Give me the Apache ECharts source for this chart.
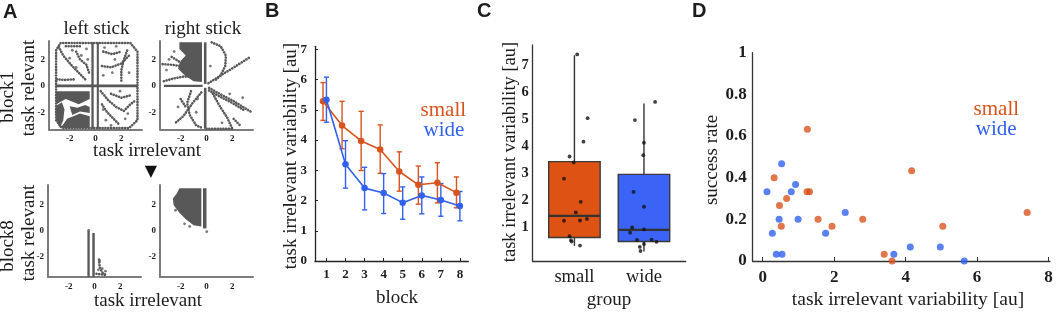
<!DOCTYPE html>
<html>
<head>
<meta charset="utf-8">
<script src="https://cdn.jsdelivr.net/npm/echarts@6/dist/echarts.min.js"></script>
<style>
html, body { margin: 0; padding: 0; background: #fff; }
#chart { width: 1056px; height: 313px; }
</style>
</head>
<body>
<div id="chart"></div>
<script>
// ---------- panel A: stick positions (task irrelevant x, task relevant y) ----------
// dense regions as outlines, sparse tracks as vertex lists, single dots
const leftB1Fills = [
  [[-0.32, -3.25], [-0.14, -3.25], [-0.14, 3.3], [-0.32, 3.3]],
  [[0.1, -3.25], [0.26, -3.25], [0.26, 3.3], [0.1, 3.3]],
  [[-3.05, -0.1], [3.25, -0.1], [3.25, 0.1], [-3.05, 0.1]],
  [[-2.7, -3.2], [-0.45, -3.2], [-0.45, -2.3], [-1.2, -2.1], [-2.2, -2.5]],
  [[-3.05, -0.4], [-0.45, -0.4], [-0.45, -1.0], [-1.3, -1.4], [-2.3, -1.0], [-3.05, -1.4]],
  [[-3.05, -1.5], [-2.6, -1.25], [-2.4, -1.8], [-2.5, -2.6], [-2.75, -3.2], [-3.05, -2.6]],
  [[-2.0, -1.55], [-1.4, -1.65], [-0.8, -1.45], [-0.45, -1.6], [-0.45, -2.05], [-1.2, -1.95], [-1.8, -2.2]]
];
const leftB1Paths = [
  [[-3.05, 2.7], [-2.7, 3.25], [2.7, 3.25], [3.25, 2.6], [3.25, -2.6], [2.6, -3.2], [-2.6, -3.2], [-3.05, -2.6], [-3.05, 2.7]],
  [[-2.85, 2.95], [-2.5, 2.3], [-1.9, 1.6], [-1.3, 1.0], [-0.8, 0.5]],
  [[-3.0, 0.5], [-2.4, 0.45], [-1.6, 0.5]],
  [[-2.3, 3.0], [-1.0, 3.0]],
  [[-1.5, 2.6], [-1.2, 2.0], [-0.7, 1.6], [-0.5, 1.0]],
  [[0.5, 1.5], [1.2, 1.4], [2.0, 1.7], [2.7, 2.4]],
  [[2.0, 0.4], [2.0, 1.2], [2.2, 2.0], [2.5, 2.8]],
  [[0.6, 2.6], [1.3, 2.4], [2.0, 2.6]],
  [[0.4, -0.4], [1.0, -1.1], [1.6, -1.6], [2.2, -1.9], [2.7, -1.4], [3.1, -1.1]],
  [[0.5, -1.4], [0.9, -2.0], [1.4, -2.5], [1.8, -2.9]],
  [[1.2, -0.6], [2.0, -0.9], [2.8, -0.7]]
];
const leftB1Dots = [[-1.8, 2.7], [-1.1, 2.3], [-0.7, 2.8], [-2.0, 2.1], [-1.5, 1.4], [-0.6, 2.0], [0.7, 2.9],
  [1.6, 3.0], [1.3, 1.0], [0.6, 0.8], [2.6, 1.0], [1.5, 2.0], [0.8, -2.6], [1.2, -3.0], [2.3, -2.5],
  [0.6, -1.8], [1.9, -0.4], [2.5, -2.1], [-1.6, -1.9], [-0.9, -1.7]];

const rightB1Fills = [
  [[-2.1, 3.3], [-0.35, 3.3], [-0.35, 0.3], [-1.0, 0.35], [-1.7, 0.8], [-2.2, 1.3], [-2.0, 1.9], [-1.6, 2.3], [-2.1, 2.8]],
  [[-0.2, 0.15], [0.0, 0.15], [0.0, 3.3], [-0.2, 3.3]],
  [[-0.2, -3.25], [0.0, -3.25], [0.0, -0.15], [-0.2, -0.15]],
  [[-3.3, -0.08], [-0.3, -0.08], [-0.3, 0.08], [-3.3, 0.08]]
];
const rightB1Paths = [
  [[-3.4, 1.65], [-2.7, 1.6], [-2.0, 1.5]],
  [[-2.7, 2.2], [-2.2, 1.9], [-1.5, 1.3]],
  [[-3.3, 0.35], [-2.6, 0.55], [-1.8, 0.7], [-1.2, 0.7]],
  [[0.4, 3.3], [1.1, 3.0], [1.5, 2.3], [1.45, 1.5], [1.1, 0.8], [0.6, 0.35]],
  [[0.15, 0.2], [1.2, 0.85], [2.2, 1.45], [3.4, 2.2]],
  [[0.2, -0.15], [1.0, -0.6], [2.0, -1.1], [3.0, -1.7], [3.5, -2.0]],
  [[0.2, -0.35], [1.0, -0.8], [2.0, -1.3], [3.0, -1.9]],
  [[0.5, -0.6], [1.0, -1.5], [1.6, -2.4], [2.0, -3.25]],
  [[0.0, -3.25], [2.0, -3.25]],
  [[2.1, -2.5], [2.6, -3.0]],
  [[-0.4, -0.5], [-1.0, -1.2], [-1.8, -2.3], [-2.4, -2.8]],
  [[-1.2, -0.4], [-1.5, -1.3], [-1.3, -2.2], [-0.8, -3.0], [-0.3, -3.2]],
  [[-2.0, -1.0], [-1.6, -1.6]]
];
const rightB1Dots = [[-2.9, 2.0], [-3.1, 1.2], [-2.5, 2.6], [1.8, -0.6], [2.8, -0.9], [-0.8, -2.0],
  [-2.2, -1.6], [-0.7, -1.0], [1.2, -2.8], [0.3, 1.5]];

const leftB8Fills = [
  [[-0.55, 0.0], [-0.37, 0.0], [-0.37, -3.55], [-0.55, -3.55]],
  [[-0.17, -0.15], [0.02, -0.15], [0.02, -3.55], [-0.17, -3.55]]
];
const leftB8Paths = [
  [[0.35, -2.2], [0.4, -2.8], [0.6, -3.2], [0.9, -3.4]],
  [[0.15, -3.3], [0.9, -3.4]]
];
const leftB8Dots = [[-0.45, 0.05], [0.4, -2.3], [0.6, -2.9], [0.85, -3.1], [0.3, -3.0]];

const rightB8Fills = [
  [[-2.1, 3.3], [-0.4, 3.3], [-0.4, 0.35], [-1.0, 0.45], [-1.6, 0.9], [-2.1, 1.4], [-2.55, 2.0], [-2.6, 2.5], [-2.3, 2.9]],
  [[-0.27, 0.2], [0.0, 0.2], [0.0, 3.3], [-0.27, 3.3]]
];
const rightB8Paths = [];
const rightB8Dots = [[0.02, -0.05], [-1.7, 0.55], [-1.3, 0.35], [-2.4, 1.6]];

// ---------- panel B: mean +/- error per block ----------
const BLOCKS = [1, 2, 3, 4, 5, 6, 7, 8];
const smallMean = [5.28, 4.48, 3.97, 3.69, 2.96, 2.52, 2.59, 2.26];
const smallHi = [5.9, 5.28, 4.95, 4.5, 3.61, 3.14, 3.25, 2.78];
const smallLo = [4.65, 3.71, 2.99, 2.9, 2.31, 1.88, 1.92, 1.76];
const wideMean = [5.33, 3.2, 2.41, 2.25, 1.93, 2.17, 2.02, 1.82];
const wideHi = [6.08, 3.98, 3.1, 2.89, 2.45, 2.78, 2.56, 2.3];
const wideLo = [4.59, 2.41, 1.69, 1.57, 1.38, 1.56, 1.48, 1.33];
const SMALL_SHIFT = -0.18;

// ---------- panels C / D: per-subject values ----------
const GROUPS = ['small', 'wide'];
const smallVar = [0.32, 0.47, 0.52, 0.67, 1.24, 1.25, 1.31, 1.55, 1.94, 2.8, 3.4, 3.62, 4.17, 5.04, 7.4];
const smallRate = [0.4, 0.267, 0.167, 0.3, 0.333, 0.633, 0.333, 0.2, 0.167, 0.2, 0.033, 0, 0.433, 0.167, 0.233];
const smallJitter = [0.08, -0.04, -0.05, -0.07, -0.15, 0.08, 0.18, 0.02, 0.09, -0.15, -0.01, -0.07, 0.13, 0.19, 0.04];
const wideVar = [0.12, 0.27, 0.38, 0.46, 0.53, 0.54, 0.8, 0.92, 0.99, 1.76, 2.31, 3.67, 4.13, 4.97, 5.64];
const wideRate = [0.333, 0.133, 0.033, 0.2, 0.467, 0.033, 0.333, 0.367, 0.2, 0.133, 0.233, 0.033, 0.067, 0.067, 0];
const wideJitter = [-0.05, -0.06, 0, 0.18, -0.1, 0.11, -0.2, 0, -0.17, 0, -0.15, -0.01, 0, -0.13, 0.16];
// box stats: min, q1, median, q3, max
const smallBox = [0.31, 0.62, 1.42, 3.43, 7.37];
const wideBox = [0.1, 0.47, 0.9, 2.96, 5.58];

const GRAY = '#585858';
const ORANGE = '#D9531E';
const BLUE = '#3161EE';
const BOX_FILL = ['#DE5214', '#3B63F6'];
const INK = '#1c1c1c';
const SERIF = '"Liberation Serif", "Times New Roman", serif';
const SANS = '"Liberation Sans", Arial, sans-serif';

const chart = echarts.init(document.getElementById('chart'), null, { renderer: 'canvas' });

const grids = [
  { left: 49, top: 41, width: 93, height: 88.4 },
  { left: 160, top: 41, width: 93, height: 88.4 },
  { left: 48, top: 185, width: 93, height: 92 },
  { left: 160, top: 185, width: 93, height: 92 },
  { left: 315, top: 46.3, width: 153.3, height: 214.7 },
  { left: 532.7, top: 45, width: 153, height: 216 },
  { left: 752.7, top: 52.7, width: 297.3, height: 208.3 }
];

const tickFont = (size) => ({ fontFamily: SERIF, fontWeight: 'bold', fontSize: size, color: INK });

const aAxis = (gridIndex, min, max, margin) => ({
  gridIndex, type: 'value', min, max,
  axisLine: { show: true, onZero: false, lineStyle: { color: '#7c7c7c', width: 2 } },
  axisTick: { show: false },
  splitLine: { show: false },
  axisLabel: { customValues: [-2, 0, 2], margin, ...tickFont(9) }
});

const xAxes = [
  aAxis(0, -3.6, 3.6, 5), aAxis(1, -3.6, 3.6, 5), aAxis(2, -3.6, 3.6, 5), aAxis(3, -3.6, 3.6, 5),
  {
    gridIndex: 4, type: 'value', min: 0.4, max: 8.44,
    axisLine: { onZero: false, lineStyle: { color: '#222', width: 1.3 } },
    axisTick: { inside: true, length: 3, customValues: BLOCKS, lineStyle: { color: '#222' } },
    axisLabel: { customValues: BLOCKS, margin: 7, ...tickFont(13) },
    splitLine: { show: false }
  },
  {
    gridIndex: 5, type: 'value', min: 0.4, max: 2.6,
    axisLine: { onZero: false, lineStyle: { color: '#333', width: 1.3 } },
    axisTick: { show: false },
    axisLabel: { customValues: [1, 2], margin: 7, formatter: (v) => GROUPS[Math.round(v) - 1],
      fontFamily: SERIF, fontSize: 18.5, color: INK },
    splitLine: { show: false }
  },
  {
    gridIndex: 6, type: 'value', min: -0.28, max: 8.04,
    axisLine: { onZero: false, lineStyle: { color: '#333', width: 1.3 } },
    axisTick: { inside: true, length: 4, customValues: [0, 2, 4, 6, 8], lineStyle: { color: '#333' } },
    axisLabel: { customValues: [0, 2, 4, 6, 8], margin: 8, ...tickFont(17) },
    splitLine: { show: false }
  }
];

const yAxes = [
  aAxis(0, -3.3, 3.4, 4), aAxis(1, -3.3, 3.4, 4), aAxis(2, -3.55, 3.55, 4), aAxis(3, -3.55, 3.55, 4),
  {
    gridIndex: 4, type: 'value', min: 0, max: 7.1,
    axisLine: { show: true, onZero: false, lineStyle: { color: '#222', width: 1.3 } },
    axisTick: { show: true, inside: true, length: 3, customValues: [0, 1, 2, 3, 4, 5, 6, 7], lineStyle: { color: '#222' } },
    axisLabel: { customValues: [0, 1, 2, 3, 4, 5, 6, 7], margin: 8, ...tickFont(13) },
    splitLine: { show: false }
  },
  {
    gridIndex: 5, type: 'value', min: -0.25, max: 7.75,
    axisLine: { show: true, onZero: false, lineStyle: { color: '#333', width: 1.3 } },
    axisTick: { show: false },
    axisLabel: { customValues: [1, 2, 3, 4, 5, 6, 7], margin: 4, ...tickFont(14.5) },
    splitLine: { show: false }
  },
  {
    gridIndex: 6, type: 'value', min: 0, max: 1, interval: 0.2,
    axisLine: { show: true, onZero: false, lineStyle: { color: '#333', width: 1.3 } },
    axisTick: { show: false },
    axisLabel: { margin: 6, ...tickFont(17) },
    splitLine: { show: false }
  }
];

// ---- series builders ----
const polySeries = (g, fills) => ({
  type: 'custom', xAxisIndex: g, yAxisIndex: g, silent: true,
  data: fills.map((f, i) => [i, 0]),
  renderItem: (params, api) => ({
    type: 'polygon',
    shape: { points: fills[api.value(0)].map((p) => api.coord(p)) },
    style: { fill: GRAY }
  })
});

const pathSeries = (g, paths) => paths.map((p) => ({
  type: 'line', xAxisIndex: g, yAxisIndex: g, silent: true, symbol: 'none',
  data: p,
  lineStyle: { color: GRAY, width: 2.6, type: [0.1, 2.7], cap: 'round' }
}));

const dotSeries = (g, dots) => ({
  type: 'scatter', xAxisIndex: g, yAxisIndex: g, silent: true,
  data: dots, symbolSize: 2.8, itemStyle: { color: GRAY }
});

const panelA = [
  [0, leftB1Fills, leftB1Paths, leftB1Dots],
  [1, rightB1Fills, rightB1Paths, rightB1Dots],
  [2, leftB8Fills, leftB8Paths, leftB8Dots],
  [3, rightB8Fills, rightB8Paths, rightB8Dots]
].flatMap(([g, f, p, d]) => [polySeries(g, f), ...pathSeries(g, p), dotSeries(g, d)]);

const errSeries = (xs, lo, hi, color) => ({
  type: 'custom', xAxisIndex: 4, yAxisIndex: 4, silent: true,
  data: xs.map((x, i) => [x, lo[i], hi[i]]),
  encode: { x: 0, y: [1, 2] },
  renderItem: (params, api) => {
    const x = api.value(0);
    const b = api.coord([x, api.value(1)]);
    const t = api.coord([x, api.value(2)]);
    const w = 2.6;
    const st = { stroke: color, lineWidth: 1.4 };
    return {
      type: 'group', children: [
        { type: 'line', shape: { x1: t[0], y1: t[1], x2: b[0], y2: b[1] }, style: st },
        { type: 'line', shape: { x1: t[0] - w, y1: t[1], x2: t[0] + w, y2: t[1] }, style: st },
        { type: 'line', shape: { x1: b[0] - w, y1: b[1], x2: b[0] + w, y2: b[1] }, style: st }
      ]
    };
  }
});

const meanSeries = (xs, ys, color) => ({
  type: 'line', xAxisIndex: 4, yAxisIndex: 4, silent: true,
  data: xs.map((x, i) => [x, ys[i]]),
  symbol: 'circle', symbolSize: 6.5,
  lineStyle: { color, width: 1.6 }, itemStyle: { color }
});

const smallX = BLOCKS.map((b) => b + SMALL_SHIFT);

const panelB = [
  errSeries(smallX, smallLo, smallHi, ORANGE),
  meanSeries(smallX, smallMean, ORANGE),
  errSeries(BLOCKS, wideLo, wideHi, BLUE),
  meanSeries(BLOCKS, wideMean, BLUE)
];

const boxSeries = {
  type: 'custom', xAxisIndex: 5, yAxisIndex: 5, silent: true,
  data: [[1, ...smallBox], [2, ...wideBox]],
  encode: { x: 0, y: [1, 2, 3, 4, 5] },
  renderItem: (params, api) => {
    const x = api.value(0);
    const [mn, q1, md, q3, mx] = [1, 2, 3, 4, 5].map((d) => api.value(d));
    const hw = 0.37;
    const tl = api.coord([x - hw, q3]);
    const br = api.coord([x + hw, q1]);
    const m1 = api.coord([x - hw, md]);
    const m2 = api.coord([x + hw, md]);
    const top = api.coord([x, mx]);
    const bot = api.coord([x, mn]);
    const line = { stroke: '#333', lineWidth: 1.4 };
    return {
      type: 'group', children: [
        { type: 'line', shape: { x1: top[0], y1: top[1], x2: top[0], y2: tl[1] }, style: line },
        { type: 'line', shape: { x1: bot[0], y1: br[1], x2: bot[0], y2: bot[1] }, style: line },
        { type: 'rect', shape: { x: tl[0], y: tl[1], width: br[0] - tl[0], height: br[1] - tl[1] },
          style: { fill: BOX_FILL[params.dataIndex], stroke: '#3a3a3a', lineWidth: 1.4 } },
        { type: 'line', shape: { x1: m1[0], y1: m1[1], x2: m2[0], y2: m2[1] }, style: { stroke: '#333', lineWidth: 2.2 } }
      ]
    };
  }
};

const panelC = [
  boxSeries,
  { type: 'scatter', xAxisIndex: 5, yAxisIndex: 5, silent: true, symbolSize: 3.8, itemStyle: { color: '#111' },
    data: smallVar.map((v, i) => [1 + smallJitter[i], v]) },
  { type: 'scatter', xAxisIndex: 5, yAxisIndex: 5, silent: true, symbolSize: 3.8, itemStyle: { color: '#111' },
    data: wideVar.map((v, i) => [2 + wideJitter[i], v]) }
];

const panelD = [
  { type: 'scatter', xAxisIndex: 6, yAxisIndex: 6, silent: true, symbolSize: 7, itemStyle: { color: ORANGE },
    data: smallVar.map((v, i) => [v, smallRate[i]]) },
  { type: 'scatter', xAxisIndex: 6, yAxisIndex: 6, silent: true, symbolSize: 7, itemStyle: { color: BLUE },
    data: wideVar.map((v, i) => [v, wideRate[i]]) }
];

// ---- free text: panel letters, titles, axis names, in-plot legends ----
const txt = (text, x, y, size, o = {}) => ({
  type: 'text', x, y, rotation: o.rot ? Math.PI / 2 : 0, silent: true,
  style: {
    text, font: `${o.bold ? 'bold ' : ''}${size}px ${o.family || SERIF}`, fill: o.color || INK,
    align: o.align || 'center', verticalAlign: 'middle',
    textAlign: o.align || 'center', textVerticalAlign: 'middle'
  }
});

const texts = [
  txt('A', 3, 12, 20, { bold: true, family: SANS, align: 'left' }),
  txt('B', 265, 11.5, 20, { bold: true, family: SANS, align: 'left' }),
  txt('C', 477, 11.5, 20, { bold: true, family: SANS, align: 'left' }),
  txt('D', 692, 11.5, 20, { bold: true, family: SANS, align: 'left' }),
  txt('left stick', 96.5, 29, 19),
  txt('right stick', 203, 29, 19),
  txt('block1', 8, 97, 19, { rot: true }),
  txt('task relevant', 29, 88, 19, { rot: true }),
  txt('task irrelevant', 147, 151, 19),
  txt('\u25BC', 151, 172, 16, { family: '"DejaVu Sans", sans-serif', color: '#111' }),
  txt('block8', 8, 246, 19, { rot: true }),
  txt('task relevant', 29, 233, 19, { rot: true }),
  txt('task irrelevant', 148, 301, 19),
  txt('task irrelevant variability [au]', 291, 156, 19, { rot: true }),
  txt('block', 397, 298.5, 19),
  txt('small', 443.3, 110, 21, { color: ORANGE }),
  txt('wide', 444, 130, 21, { color: BLUE }),
  txt('task irrelevant variability [au]', 510, 152, 18.5, { rot: true }),
  txt('group', 609, 300.5, 19),
  txt('success rate', 712.5, 160, 19, { rot: true }),
  txt('task irrelevant variability [au]', 908, 300, 19.5),
  txt('small', 996.3, 109.7, 21, { color: ORANGE }),
  txt('wide', 996.2, 129, 21, { color: BLUE })
];

chart.setOption({
  animation: false,
  backgroundColor: '#fff',
  grid: grids,
  xAxis: xAxes,
  yAxis: yAxes,
  series: [...panelA, ...panelB, ...panelC, ...panelD],
  graphic: { elements: texts }
});
</script>
</body>
</html>
